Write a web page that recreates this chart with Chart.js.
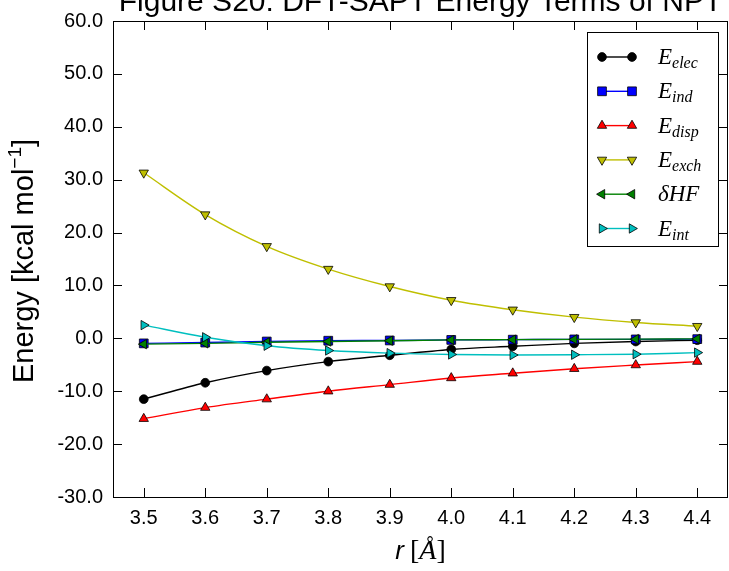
<!DOCTYPE html>
<html>
<head>
<meta charset="utf-8">
<script src="https://cdn.jsdelivr.net/npm/chart.js@4/dist/chart.umd.min.js"></script>
<style>
  html, body { margin: 0; padding: 0; background: #fff; }
  #wrap { width: 729px; height: 571px; }
</style>
</head>
<body>
<div id="wrap"><canvas id="chart" width="729" height="571"></canvas></div>
<script>
// separation r in angstrom
var distances = ['3.5', '3.6', '3.7', '3.8', '3.9', '4.0', '4.1', '4.2', '4.3', '4.4'];

// DFT-SAPT terms, kcal/mol
var eElec = [-11.5, -8.4, -6.1, -4.4, -3.2, -2.1, -1.5, -0.95, -0.6, -0.35];
var eInd  = [-0.95, -0.8, -0.6, -0.45, -0.4, -0.3, -0.25, -0.2, -0.2, -0.15];
var eDisp = [-15.2, -13.1, -11.5, -10.0, -8.75, -7.5, -6.6, -5.75, -5.05, -4.4];
var eExch = [31.3, 23.4, 17.4, 13.1, 9.8, 7.2, 5.4, 4.0, 3.0, 2.3];
var dHF   = [-1.1, -0.95, -0.75, -0.6, -0.45, -0.3, -0.25, -0.2, -0.15, -0.1];
var eInt  = [2.5, 0.2, -1.4, -2.3, -2.8, -3.05, -3.15, -3.1, -3.0, -2.7];

var yTicks = [-30, -20, -10, 0, 10, 20, 30, 40, 50, 60];

var titleText = 'Figure S20: DFT-SAPT Energy Terms of NPT';

// series styling: label parts, colour, marker and its rotation
var series = [
  { data: eElec, main: 'E', sub: 'elec', color: '#000000', marker: 'circle',   rot: 0,   r: 4.4 },
  { data: eInd,  main: 'E', sub: 'ind',  color: '#0000ff', marker: 'rect',     rot: 0,   r: 6.2 },
  { data: eDisp, main: 'E', sub: 'disp', color: '#ff0000', marker: 'triangle', rot: 0,   r: 5.4 },
  { data: eExch, main: 'E', sub: 'exch', color: '#bfbf00', marker: 'triangle', rot: 180, r: 5.4 },
  { data: dHF,   main: 'δHF', sub: '',   color: '#008000', marker: 'triangle', rot: 270, r: 5.4 },
  { data: eInt,  main: 'E', sub: 'int',  color: '#00bfbf', marker: 'triangle', rot: 90,  r: 5.4 }
];

var datasets = series.map(function (s, i) {
  return {
    label: s.main + s.sub,
    data: s.data,
    borderColor: s.color,
    borderWidth: 1.4,
    backgroundColor: s.color,
    pointStyle: s.marker,
    pointRotation: s.rot,
    pointRadius: s.r,
    pointBackgroundColor: s.color,
    pointBorderColor: '#000000',
    pointBorderWidth: 0.8,
    cubicInterpolationMode: 'monotone',
    fill: false,
    order: series.length - i   // later series on top
  };
});

var SANS = '"Liberation Sans", Arial, Helvetica, sans-serif';
var SERIF = '"Liberation Serif", "Times New Roman", serif';

// frame, inward ticks, titles and the boxed legend
var decorations = {
  id: 'decorations',
  afterDraw: function (chart) {
    var ctx = chart.ctx;
    var a = chart.chartArea;
    var xs = chart.scales.x, ys = chart.scales.y;
    var tl = 9;
    ctx.save();

    // axes frame
    ctx.strokeStyle = '#000';
    ctx.lineWidth = 1;
    ctx.strokeRect(a.left + 0.5, a.top + 0.5, a.right - a.left - 1, a.bottom - a.top);

    ctx.beginPath();
    xs.ticks.forEach(function (t, i) {
      var px = Math.round(xs.getPixelForTick(i)) + 0.5;
      ctx.moveTo(px, a.bottom); ctx.lineTo(px, a.bottom - tl);
      ctx.moveTo(px, a.top); ctx.lineTo(px, a.top + tl);
    });
    ys.ticks.forEach(function (t, i) {
      var py = Math.round(ys.getPixelForTick(i)) + 0.5;
      ctx.moveTo(a.left, py); ctx.lineTo(a.left + tl, py);
      ctx.moveTo(a.right, py); ctx.lineTo(a.right - tl, py);
    });
    ctx.stroke();

    // title
    ctx.fillStyle = '#000';
    ctx.font = '30px ' + SANS;
    ctx.textAlign = 'center';
    ctx.textBaseline = 'alphabetic';
    ctx.fillText(titleText, (a.left + a.right) / 2, 11);

    // x axis title: r [Å]
    var cx = (a.left + a.right) / 2, by = 559;
    var parts = [
      { t: 'r', f: 'italic 26px ' + SANS },
      { t: ' ', f: '22px ' + SANS },
      { t: '[', f: '28px ' + SERIF },
      { t: 'Å', f: 'italic 28px ' + SERIF },
      { t: ']', f: '28px ' + SERIF }
    ];
    var w = 0;
    parts.forEach(function (p) { ctx.font = p.f; p.w = ctx.measureText(p.t).width; w += p.w; });
    var x = cx - w / 2;
    ctx.textAlign = 'left';
    parts.forEach(function (p) { ctx.font = p.f; ctx.fillText(p.t, x, by); x += p.w; });

    // y axis title with superscript
    ctx.save();
    ctx.translate(33, 261);
    ctx.rotate(-Math.PI / 2);
    var yparts = [
      { t: 'Energy [kcal mol', f: '29px ' + SANS, dy: 0 },
      { t: '\u22121', f: '19px ' + SANS, dy: -12 },
      { t: ']', f: '29px ' + SANS, dy: 0 }
    ];
    w = 0;
    yparts.forEach(function (p) { ctx.font = p.f; p.w = ctx.measureText(p.t).width; w += p.w; });
    x = -w / 2;
    yparts.forEach(function (p) { ctx.font = p.f; ctx.fillText(p.t, x, p.dy); x += p.w; });
    ctx.restore();

    // legend box
    var lx = 587, ly = 32, lw = 131, lh = 214;
    ctx.fillStyle = '#fff';
    ctx.fillRect(lx, ly, lw, lh);
    ctx.strokeStyle = '#000';
    ctx.lineWidth = 1;
    ctx.strokeRect(lx + 0.5, ly + 0.5, lw, lh);

    chart.data.datasets.forEach(function (ds, i) {
      var s = series[i];
      var ry = 57 + i * 34.3;
      ctx.strokeStyle = ds.borderColor;
      ctx.lineWidth = ds.borderWidth;
      ctx.beginPath();
      ctx.moveTo(602, ry); ctx.lineTo(632, ry);
      ctx.stroke();
      [602, 632].forEach(function (mx) {
        ctx.fillStyle = ds.pointBackgroundColor;
        ctx.strokeStyle = ds.pointBorderColor;
        ctx.lineWidth = ds.pointBorderWidth;
        Chart.helpers.drawPoint(ctx, {
          pointStyle: ds.pointStyle, rotation: ds.pointRotation,
          radius: ds.pointRadius, borderWidth: ds.pointBorderWidth
        }, mx, ry);
      });
      ctx.fillStyle = '#000';
      ctx.font = 'italic 23px ' + SERIF;
      ctx.textBaseline = 'alphabetic';
      var tx = 658, tb = ry + 7;
      ctx.fillText(s.main, tx, tb);
      if (s.sub) {
        var mw = ctx.measureText(s.main).width;
        ctx.font = 'italic 16px ' + SERIF;
        ctx.fillText(s.sub, tx + mw, tb + 4);
      }
    });
    ctx.restore();
  }
};

new Chart(document.getElementById('chart').getContext('2d'), {
  type: 'line',
  data: { labels: distances, datasets: datasets },
  plugins: [decorations],
  options: {
    responsive: false,
    animation: false,
    layout: { autoPadding: false, padding: { top: 21, right: 1, left: 0, bottom: 0 } },
    plugins: { legend: { display: false }, tooltip: { enabled: false }, title: { display: false } },
    scales: {
      x: {
        type: 'category',
        offset: true,
        grid: { display: false, drawTicks: false },
        border: { display: false },
        ticks: { color: '#000', font: { family: SANS, size: 20 }, padding: 9, maxRotation: 0, autoSkip: false },
        afterFit: function (scale) {
          scale.height = 74;
          scale.paddingLeft = 0;
          scale.paddingRight = 0;
        }
      },
      y: {
        min: -30,
        max: 60,
        grid: { display: false, drawTicks: false },
        border: { display: false },
        afterBuildTicks: function (scale) {
          scale.ticks = yTicks.map(function (v) { return { value: v }; });
        },
        ticks: {
          color: '#000',
          font: { family: SANS, size: 20 },
          padding: 10,
          callback: function (v) { return Number(v).toFixed(1); }
        },
        afterFit: function (scale) {
          scale.width = 113;
          scale.paddingTop = 0;
          scale.paddingBottom = 0;
        }
      }
    }
  }
});
</script>
</body>
</html>
